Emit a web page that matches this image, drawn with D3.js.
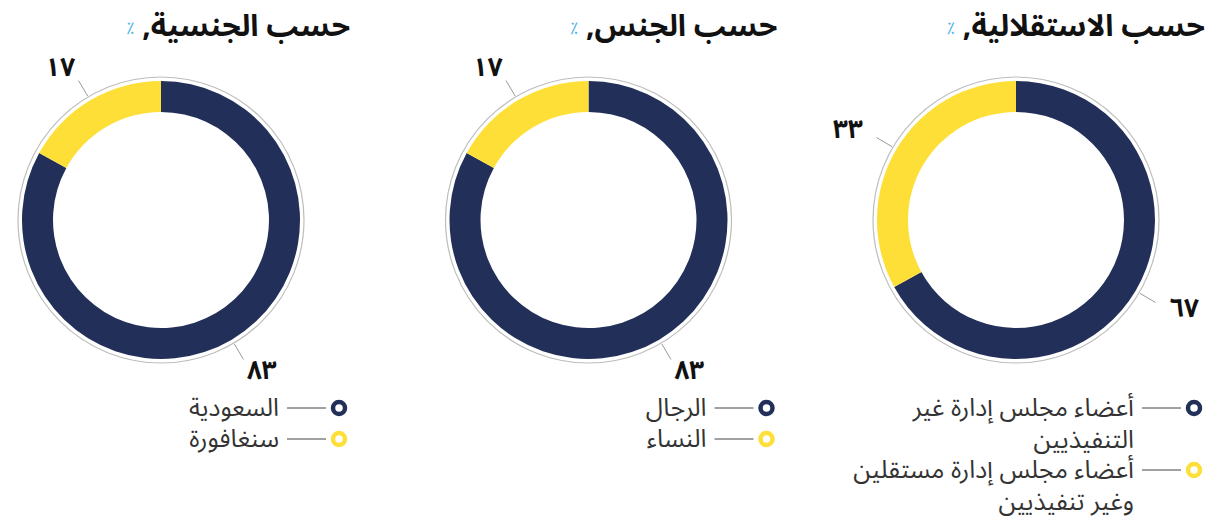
<!DOCTYPE html>
<html lang="ar">
<head>
<meta charset="utf-8">
<script src="https://cdn.jsdelivr.net/npm/d3@7"></script>
<style>
  body { margin: 0; background: #fff; }
  svg { display: block; font-family: "Noto Sans Arabic", "DejaVu Sans", sans-serif; }
</style>
</head>
<body>
<script>
// data
const titles = ["حسب الاستقلالية,", "حسب الجنس,", "حسب الجنسية,"]
const independence = [67, 33]
const gender = [83, 17]
const nationality = [83, 17]
const independenceLabels = [["أعضاء مجلس إدارة غير", "التنفيذيين"], ["أعضاء مجلس إدارة مستقلين", "وغير تنفيذيين"]]
const genderLabels = [["الرجال"], ["النساء"]]
const nationalityLabels = [["السعودية"], ["سنغافورة"]]
const colors = ["#223059", "#fedf37"]

const charts = [
    { title: titles[0], values: independence, labels: independenceLabels },
    { title: titles[1], values: gender, labels: genderLabels },
    { title: titles[2], values: nationality, labels: nationalityLabels }
]

var width = 1208,
    height = 526;

const arabicDigits = n => String(n).replace(/\d/g, d => "٠١٢٣٤٥٦٧٨٩"[d])

var svg = d3.select("body")
    .append("svg")
    .attr("width", width)
    .attr("height", height);

// charts go right to left
var x = d3.scalePoint()
    .domain(d3.range(charts.length))
    .range([1016, 161]);

var cy = 220,
    outer = 139,
    inner = 108,
    ringR = 143;

var pie = d3.pie().sort(null).value(d => d);
var arc = d3.arc().innerRadius(inner).outerRadius(outer);
var color = d3.scaleOrdinal().domain([0, 1]).range(colors);

charts.forEach((c, i) => {
    const cx = x(i);
    const g = svg.append("g").attr("transform", `translate(${cx},0)`);

    // title (rtl, right aligned), then the % sign on its left
    const t = g.append("text")
        .attr("x", 189)
        .attr("y", 36)
        .attr("direction", "rtl")
        .attr("text-anchor", "start")
        .style("font-size", "30px")
        .style("font-weight", "bold")
        .style("fill", "#111")
        .text(c.title);
    const tw = t.node().getComputedTextLength();
    g.append("text")
        .attr("x", 189 - tw - 8)
        .attr("y", 34)
        .attr("text-anchor", "end")
        .style("fill", "#4db3e6")
        .style("font-size", "17px")
        .text("٪");

    const donut = g.append("g").attr("transform", `translate(0,${cy})`);

    donut.append("circle")
        .attr("r", ringR)
        .attr("fill", "none")
        .attr("stroke", "#bdbdbd")
        .attr("stroke-width", 1.2);

    const arcs = pie(c.values);

    donut.selectAll("path.slice")
        .data(arcs)
        .join("path")
        .attr("class", "slice")
        .attr("d", arc)
        .attr("fill", (d, j) => color(j));

    // leader lines + value labels
    arcs.forEach(d => {
        const a = (d.startAngle + d.endAngle) / 2;
        const s = Math.sin(a), co = -Math.cos(a);
        donut.append("line")
            .attr("x1", s * (ringR + 1)).attr("y1", co * (ringR + 1))
            .attr("x2", s * 162).attr("y2", co * 162)
            .attr("stroke", "#999")
            .attr("stroke-width", 1);
        const anchor = Math.abs(s) < 0.6 ? "middle" : (s > 0 ? "start" : "end");
        donut.append("text")
            .attr("x", s * 178 + (anchor == "middle" ? s * 20 : 0))
            .attr("y", co * 176)
            .attr("text-anchor", anchor)
            .attr("dominant-baseline", "middle")
            .style("font-size", "26px")
            .style("font-weight", "bold")
            .style("fill", "#111")
            .text(arabicDigits(d.value));
    });

    // legend
    let row = 0;
    c.labels.forEach((lines, j) => {
        const y = 408 + row * 31;
        g.append("circle")
            .attr("cx", 178).attr("cy", y)
            .attr("r", 6)
            .attr("fill", "#fff")
            .attr("stroke", colors[j])
            .attr("stroke-width", 4.5);
        g.append("line")
            .attr("x1", 126).attr("x2", 165)
            .attr("y1", y).attr("y2", y)
            .attr("stroke", "#444")
            .attr("stroke-width", 1);
        lines.forEach((l, k) => {
            g.append("text")
                .attr("x", 118)
                .attr("y", y + k * 32 + 1)
                .attr("direction", "rtl")
                .attr("text-anchor", "start")
                .attr("dominant-baseline", "middle")
                .style("font-size", "25px")
                .style("fill", "#333")
                .text(l);
        });
        row += lines.length;
    });
});
</script>
</body>
</html>
